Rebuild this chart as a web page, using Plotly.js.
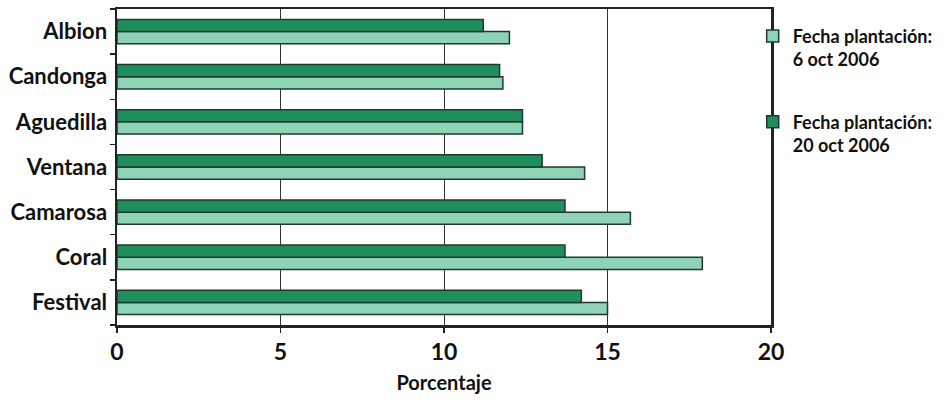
<!DOCTYPE html>
<html>
<head>
<meta charset="utf-8">
<script src="https://cdn.plot.ly/plotly-3.0.1.min.js"></script>
<style>html,body{margin:0;padding:0;background:#fff;}#chart{width:950px;height:405px;}</style>
</head>
<body>
<div id="chart"></div>
<script>
// categories listed top to bottom as in the picture
const categories = ["Albion", "Candonga", "Aguedilla", "Ventana", "Camarosa", "Coral", "Festival"];
const series1Name = "Fecha plantación:<br>6 oct 2006";
const series2Name = "Fecha plantación:<br>20 oct 2006";
const series1 = [12.0, 11.8, 12.4, 14.3, 15.7, 17.9, 15.0];
const series2 = [11.2, 11.7, 12.4, 13.0, 13.7, 13.7, 14.2];
const xTicks = [0, 5, 10, 15, 20];

const FONT = "Lato, 'Open Sans', sans-serif";
const outline = {color: "#1c3b2c", width: 1.5};

const traces = [
  {type: "bar", orientation: "h", name: series1Name, y: categories, x: series1,
   legendgroup: "a",
   marker: {color: "#8fd3b6", line: outline}},
  {type: "bar", orientation: "h", name: series2Name, y: categories, x: series2,
   legendgroup: "b",
   marker: {color: "#1e8e5c", line: outline}}
];

const layout = {
  width: 950, height: 405,
  margin: {l: 117, r: 179, t: 9, b: 80},
  paper_bgcolor: "#fff", plot_bgcolor: "#fff",
  barmode: "group", bargap: 0.46, bargroupgap: 0,
  font: {family: FONT, color: "#111", size: 18, weight: 700},
  showlegend: true,
  legend: {xref: "paper", yref: "paper", x: 0.972, xanchor: "left",
           y: 0.972, yanchor: "top", traceorder: "grouped",
           valign: "top", tracegroupgap: 36, bgcolor: "rgba(0,0,0,0)",
           font: {family: FONT, size: 18, color: "#111", weight: 700}},
  xaxis: {range: [0, 20], tickvals: xTicks, ticktext: xTicks.map(String),
          showgrid: true, gridcolor: "#333", gridwidth: 1, zeroline: false,
          showline: true, linecolor: "#222", linewidth: 2.5, mirror: true,
          ticks: "outside", ticklen: 5, tickcolor: "#222", tickwidth: 1.5,
          tickfont: {family: FONT, size: 23, weight: 700},
          title: {text: "Porcentaje", standoff: 12, font: {family: FONT, size: 20, weight: 700}},
          fixedrange: true},
  yaxis: {type: "category", categoryorder: "array", categoryarray: categories.slice().reverse(),
          range: [-0.5, categories.length - 0.5],
          showline: true, linecolor: "#222", linewidth: 2.5, mirror: true,
          ticks: "outside", tickson: "boundaries", ticklen: 5, tickcolor: "#222", tickwidth: 1.5,
          showgrid: false, ticklabelstandoff: 3,
          tickfont: {family: FONT, size: 22, weight: 700},
          fixedrange: true}
};

Plotly.newPlot("chart", traces, layout, {displayModeBar: false, staticPlot: true});
</script>
</body>
</html>
